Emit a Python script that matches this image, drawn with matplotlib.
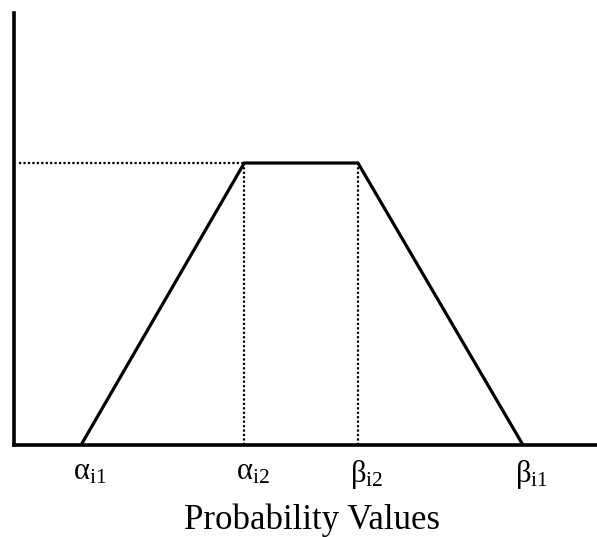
import numpy as np
import matplotlib.pyplot as plt
from matplotlib.transforms import ScaledTranslation

plt.rcParams['font.family'] = ['Liberation Serif', 'DejaVu Serif']
plt.rcParams['mathtext.fontset'] = 'custom'
plt.rcParams['mathtext.rm'] = 'Liberation Serif'
plt.rcParams['mathtext.it'] = 'Liberation Serif'

# trapezoidal membership: breakpoints on the probability axis
breakpoints = [0.115, 0.395, 0.59, 0.873]
membership = [0.0, 1.0, 1.0, 0.0]
point_names = ['α$_{\\mathrm{i1}}$', 'α$_{\\mathrm{i2}}$', 'β$_{\\mathrm{i2}}$', 'β$_{\\mathrm{i1}}$']

fig = plt.figure(figsize=(5.97, 5.37), dpi=100)
ax = fig.add_axes([14 / 597, 92 / 537, 583 / 597, 432 / 537])

ax.plot(breakpoints, membership, color='black', lw=2.3, solid_joinstyle='miter')

# dotted guide lines at the plateau
ax.plot([0.008, breakpoints[1]], [1.0, 1.0], color='black', lw=1.6, ls=(0, (1, 1)))
for xb in breakpoints[1:3]:
    ax.plot([xb, xb], [0, 1.0], color='black', lw=1.6, ls=(0, (1, 1)))

ax.set_xlim(0, 1)
ax.set_ylim(0, 1.532)
ax.spines['top'].set_visible(False)
ax.spines['right'].set_visible(False)
ax.spines['left'].set_linewidth(2.6)
ax.spines['bottom'].set_linewidth(2.6)
ax.set_xticks([])
ax.set_yticks([])

# point names under the axis
offset = ScaledTranslation(-8 / 100, -13 / 100, fig.dpi_scale_trans)
for xb, name in zip(breakpoints, point_names):
    ax.text(xb, 0, name, transform=ax.get_xaxis_transform() + offset,
            ha='left', va='top', fontsize=22)

fig.text(312 / 597, 1 - 520 / 537, 'Probability Values', ha='center', va='center', fontsize=25)

fig.savefig('out.png', dpi=100)
